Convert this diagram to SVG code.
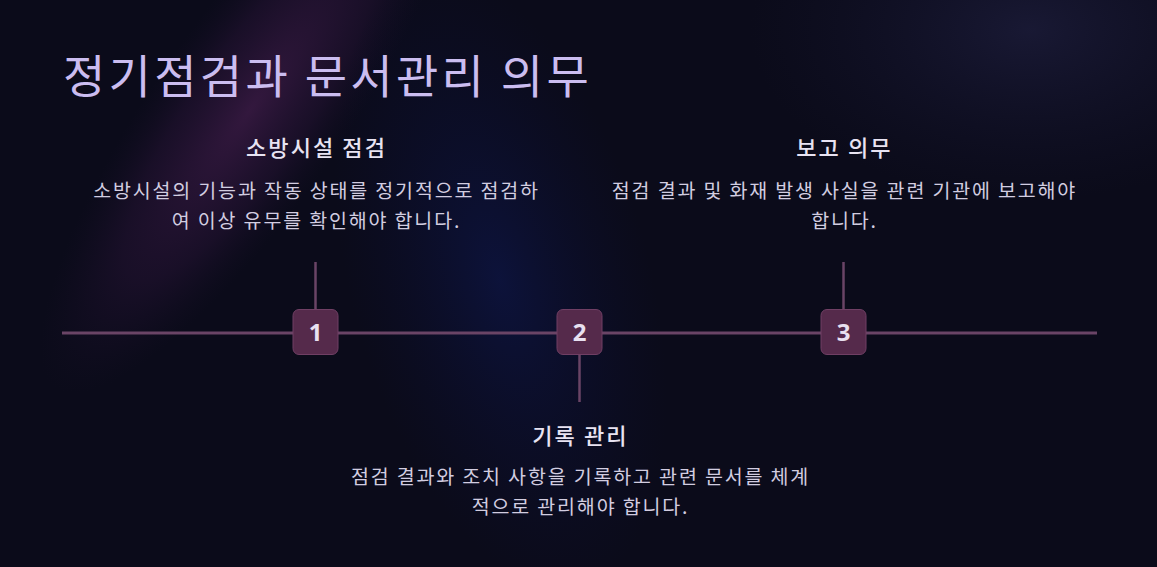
<svg xmlns="http://www.w3.org/2000/svg" width="1157" height="567" viewBox="0 0 1157 567">
<defs>
<radialGradient id="gPurple" cx="0" cy="0" r="1" gradientUnits="userSpaceOnUse" gradientTransform="translate(250 110) rotate(125) scale(340 95)">
<stop offset="0" stop-color="#3a1a44" stop-opacity="0.85"/>
<stop offset="0.6" stop-color="#2a1438" stop-opacity="0.45"/>
<stop offset="1" stop-color="#1a0f2a" stop-opacity="0"/>
</radialGradient>
<radialGradient id="gBlue" cx="0" cy="0" r="1" gradientUnits="userSpaceOnUse" gradientTransform="translate(500 280) rotate(75) scale(320 150)">
<stop offset="0" stop-color="#0d1440" stop-opacity="0.85"/>
<stop offset="1" stop-color="#0b0e30" stop-opacity="0"/>
</radialGradient>
<radialGradient id="gTR" cx="0" cy="0" r="1" gradientUnits="userSpaceOnUse" gradientTransform="translate(1030 30) scale(280 170)">
<stop offset="0" stop-color="#1c1c3a" stop-opacity="0.8"/>
<stop offset="1" stop-color="#14142e" stop-opacity="0"/>
</radialGradient>
<style>
.title{font-family:"Noto Sans CJK KR","Noto Sans",sans-serif;font-size:46px;font-weight:400;fill:#cbbdf0;letter-spacing:3.3px}
.head{font-family:"Noto Sans CJK KR","Noto Sans",sans-serif;font-size:22px;font-weight:500;fill:#e8e3f2;text-anchor:middle;letter-spacing:2.1px}
.desc{font-family:"Noto Sans CJK KR","Noto Sans",sans-serif;font-size:19.5px;font-weight:400;fill:#d2cde0;text-anchor:middle;letter-spacing:1.85px}
.box{fill:#552a4b;stroke:#703f64;stroke-width:1}
.num{font-family:"Open Sans","Noto Sans",sans-serif;font-size:24px;font-weight:700;fill:#e8e0f0;text-anchor:middle}
.ln{stroke:#6a4466;stroke-width:3;fill:none}
.tick{stroke:#6a4466;stroke-width:2.5;fill:none}
</style>
</defs>
<rect width="1157" height="567" fill="#0b0b1a"/>
<rect width="1157" height="567" fill="url(#gPurple)"/>
<rect width="1157" height="567" fill="url(#gBlue)"/>
<rect width="1157" height="567" fill="url(#gTR)"/>
<text class="title" x="63" y="93">정기점검과 문서관리 의무</text>
<g id="connectors">
<line class="ln" x1="62" y1="333" x2="1097" y2="333"/>
<line class="tick" x1="315.5" y1="262" x2="315.5" y2="310"/>
<line class="tick" x1="579.5" y1="354" x2="579.5" y2="402"/>
<line class="tick" x1="843.5" y1="262" x2="843.5" y2="310"/>
</g>
<g id="node1">
<rect class="box" x="293" y="309.5" width="45" height="45" rx="6"/>
<text class="num" x="315.5" y="340.5">1</text>
<text class="head" x="316.5" y="156">소방시설 점검</text>
<text class="desc" x="316.5" y="198">소방시설의 기능과 작동 상태를 정기적으로 점검하</text>
<text class="desc" x="316.5" y="228">여 이상 유무를 확인해야 합니다.</text>
</g>
<g id="node2">
<rect class="box" x="557" y="309.5" width="45" height="45" rx="6"/>
<text class="num" x="579.5" y="340.5">2</text>
<text class="head" x="580.5" y="444">기록 관리</text>
<text class="desc" x="580.5" y="484">점검 결과와 조치 사항을 기록하고 관련 문서를 체계</text>
<text class="desc" x="580.5" y="514">적으로 관리해야 합니다.</text>
</g>
<g id="node3">
<rect class="box" x="821" y="309.5" width="45" height="45" rx="6"/>
<text class="num" x="843.5" y="340.5">3</text>
<text class="head" x="844.5" y="156">보고 의무</text>
<text class="desc" x="844.5" y="198">점검 결과 및 화재 발생 사실을 관련 기관에 보고해야</text>
<text class="desc" x="844.5" y="228">합니다.</text>
</g>
</svg>
